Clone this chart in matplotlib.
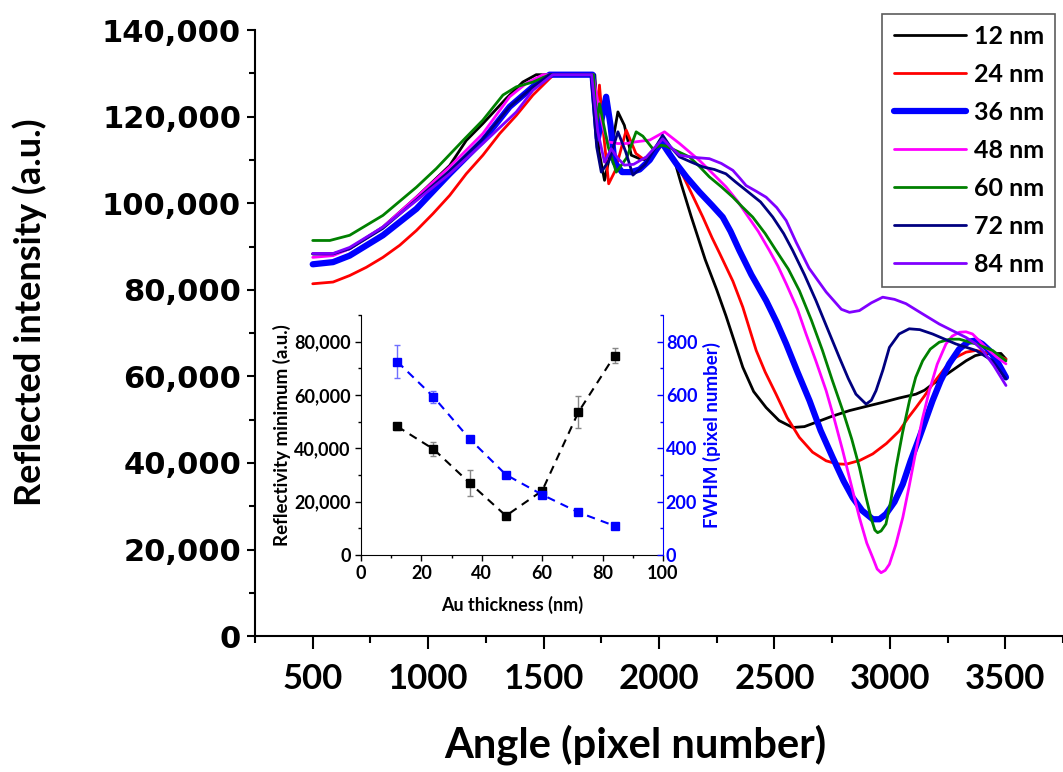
import numpy as np
import matplotlib
matplotlib.use("Agg")
import matplotlib.pyplot as plt
from matplotlib.ticker import MultipleLocator, FuncFormatter

# main spectra (pixel number, intensity)
x12 = [500, 588, 660, 804, 949, 1093, 1165, 1237, 1338, 1410, 1468, 1722, 1740, 1764, 1795, 1822, 1850, 1880, 1916,
       1959, 2016, 2040, 2067, 2096, 2139, 2200, 2250, 2290, 2330, 2363, 2410, 2464, 2520, 2579, 2630, 2680, 2750,
       2825, 2900, 2969, 3040, 3113, 3150, 3185, 3260, 3330, 3370, 3402, 3481, 3503]
y12 = [88300, 88300, 89500, 94500, 101400, 108700, 114500, 118400, 124200, 128000, 129700, 129700, 112000, 105300, 113000,
       121100, 118000, 111100, 110300, 109900, 114900, 112500, 109900, 104500, 97000, 87000, 80000, 74000, 67500, 62100,
       56500, 52800, 49800, 48200, 48400, 49400, 50800, 52100, 53100, 54000, 55000, 55900, 56800, 58200, 61000, 63600,
       64800, 65200, 65300, 64000]

x24 = [500, 588, 660, 732, 804, 877, 949, 1021, 1093, 1165, 1237, 1310, 1382, 1454, 1526, 1545, 1716, 1728, 1742, 1760,
       1782, 1810, 1858, 1900, 1930, 1970, 2016, 2060, 2103, 2139, 2190, 2230, 2262, 2320, 2363, 2421, 2460, 2507, 2555,
       2608, 2665, 2724, 2770, 2810, 2870, 2926, 2985, 3041, 3080, 3113, 3150, 3185, 3240, 3286, 3330, 3373, 3445, 3503]
y24 = [81400, 81800, 83300, 85200, 87500, 90300, 93700, 97600, 101800, 106800, 111100, 116100, 120300, 125000, 128800,
       129700, 129700, 120000, 127300, 116000, 104500, 107500, 116900, 111500, 110300, 110800, 113600, 110000, 106500,
       102500, 96800, 92000, 88500, 82000, 76000, 66000, 61000, 55900, 50500, 45900, 42500, 40500, 39800, 39700, 40600,
       42100, 44500, 47400, 50500, 52800, 55500, 58200, 62000, 64400, 65600, 66000, 65200, 64000]

x36 = [500, 588, 660, 804, 949, 1093, 1237, 1353, 1454, 1526, 1712, 1735, 1771, 1790, 1807, 1840, 1880, 1916, 1960,
       2010, 2040, 2074, 2120, 2175, 2230, 2276, 2310, 2348, 2400, 2464, 2510, 2551, 2600, 2652, 2700, 2752, 2800, 2839,
       2880, 2926, 2955, 2983, 3020, 3056, 3090, 3128, 3185, 3220, 3257, 3300, 3340, 3373, 3400, 3431, 3470, 3503]
y36 = [85900, 86400, 87900, 92600, 98700, 106800, 114500, 122300, 126900, 129700, 129700, 115000, 124600, 118000,
       109500, 107200, 107200, 107800, 110000, 114200, 111800, 109200, 106000, 102600, 99500, 96800, 93500, 89100, 83500,
       77500, 72500, 67500, 61000, 54400, 47500, 41300, 35800, 32000, 29000, 27000, 27000, 28200, 31000, 35100, 40500,
       45900, 54400, 59000, 62900, 66300, 68000, 68300, 67500, 66000, 63000, 59800]

x48 = [500, 588, 660, 804, 949, 1093, 1237, 1353, 1425, 1497, 1714, 1735, 1760, 1778, 1820, 1858, 1901, 1960, 2024,
       2089, 2175, 2230, 2290, 2340, 2377, 2430, 2478, 2515, 2551, 2600, 2637, 2680, 2724, 2760, 2796, 2830, 2868, 2900,
       2926, 2945, 2962, 2980, 2998, 3025, 3056, 3085, 3113, 3140, 3171, 3205, 3243, 3270, 3301, 3330, 3358, 3416, 3460,
       3503]
y48 = [87500, 87900, 89500, 94500, 101400, 108400, 116100, 124600, 127700, 129700, 129700, 123400, 117000, 114200,
       113800, 113800, 114200, 114600, 116500, 113800, 109900, 107000, 103800, 100500, 97600, 93500, 89100, 85500, 81400,
       75500, 69800, 63500, 56700, 50000, 42800, 35500, 27400, 21500, 18100, 15500, 14650, 15200, 16600, 21000, 27400,
       35000, 42800, 50000, 56700, 62800, 67500, 69300, 70200, 70300, 69800, 66700, 64600, 62900]

x60 = [500, 574, 660, 804, 949, 1035, 1151, 1237, 1324, 1382, 1454, 1526, 1716, 1730, 1742, 1780, 1815, 1860, 1901,
       1930, 1973, 2009, 2031, 2080, 2132, 2175, 2218, 2270, 2320, 2360, 2406, 2460, 2507, 2560, 2608, 2660, 2708, 2750,
       2796, 2835, 2868, 2895, 2918, 2935, 2947, 2962, 2983, 3005, 3027, 3055, 3085, 3112, 3142, 3175, 3214, 3260, 3301,
       3373, 3445, 3503]
y60 = [91400, 91400, 92600, 97200, 103700, 108000, 114500, 119200, 125000, 126900, 128000, 129700, 129700, 118000,
       123000, 113000, 107200, 110500, 116500, 115500, 112600, 113400, 113200, 112000, 110700, 108500, 106100, 103800,
       101400, 99200, 96800, 93000, 89100, 84800, 79800, 73000, 66000, 59200, 52100, 45500, 39000, 32500, 27400, 24500,
       23900, 24300, 25900, 31500, 39000, 47000, 54400, 59800, 63600, 66300, 67900, 68600, 68600, 67500, 66000, 63600]

x72 = [500, 588, 660, 804, 949, 1093, 1237, 1353, 1454, 1526, 1706, 1730, 1750, 1785, 1822, 1855, 1887, 1940, 2016,
       2050, 2089, 2140, 2190, 2240, 2290, 2330, 2377, 2440, 2493, 2540, 2579, 2630, 2680, 2730, 2781, 2820, 2853, 2897,
       2920, 2940, 2970, 2998, 3040, 3084, 3130, 3185, 3286, 3373, 3445, 3503]
y72 = [88300, 88300, 89500, 94200, 100800, 107500, 114900, 122300, 126900, 129700, 129700, 113000, 107200, 110000,
       116500, 112000, 106500, 109000, 115700, 113000, 110700, 109500, 108400, 107800, 106800, 105000, 103000, 100300,
       96800, 93000, 89100, 83500, 77500, 71000, 64400, 59500, 55900, 53600, 54500, 56700, 61500, 66700, 69800, 71000,
       70800, 69800, 67500, 66000, 63600, 59400]

x84 = [500, 588, 660, 804, 949, 1093, 1237, 1382, 1454, 1540, 1708, 1735, 1764, 1793, 1820, 1850, 1890, 1945, 2016,
       2060, 2089, 2150, 2218, 2270, 2320, 2350, 2377, 2420, 2464, 2510, 2551, 2594, 2650, 2724, 2790, 2825, 2868, 2920,
       2969, 3020, 3070, 3140, 3214, 3270, 3330, 3370, 3402, 3450, 3503]
y84 = [88400, 88400, 89800, 94500, 100600, 106800, 113800, 121100, 126100, 129700, 129700, 116500, 109500, 112600,
       110500, 108800, 109000, 110700, 114900, 112500, 111100, 110600, 110300, 109200, 107600, 105800, 104100, 102800,
       101400, 99000, 96000, 91000, 85000, 79500, 75500, 74800, 75200, 77000, 78300, 77800, 76800, 74500, 72100, 70600,
       69000, 67600, 66000, 62500, 57900]

thick_labels = ["12 nm", "24 nm", "36 nm", "48 nm", "60 nm", "72 nm", "84 nm"]

# inset: minimum reflectivity and FWHM against Au thickness
thickness = [12, 24, 36, 48, 60, 72, 84]
refl_min = [48200, 39700, 27000, 14700, 24100, 53600, 74800]
refl_err = [1200, 2500, 4900, 800, 1200, 6000, 2700]
fwhm = [725, 593, 435, 301, 226, 160, 109]
fwhm_err = [61, 22, 12, 8, 8, 6, 6]

colors = ["black", "#ff0000", "#0000ff", "#ff00ff", "#008000", "#000080", "#8000ff"]
widths = [2.0, 2.0, 4.5, 2.0, 2.0, 2.0, 2.0]

fig = plt.figure(figsize=(10.63, 7.72), dpi=100)
ax = fig.add_axes([0.2399, 0.176, 0.7601, 0.785])

xs = [x12, x24, x36, x48, x60, x72, x84]
ys = [y12, y24, y36, y48, y60, y72, y84]
for xv, yv, c, w, lab in zip(xs, ys, colors, widths, thick_labels):
    ax.plot(xv, yv, color=c, lw=w, label=lab, solid_capstyle="round", solid_joinstyle="round")

ax.set_xlim(250, 3750)
ax.set_ylim(0, 140000)
ax.spines["top"].set_visible(False)
ax.spines["right"].set_visible(False)
for s in ["left", "bottom"]:
    ax.spines[s].set_linewidth(1.5)
ax.xaxis.set_major_locator(MultipleLocator(500))
ax.xaxis.set_minor_locator(MultipleLocator(250))
ax.yaxis.set_major_locator(MultipleLocator(20000))
ax.yaxis.set_minor_locator(MultipleLocator(10000))
ax.set_xticks([500, 1000, 1500, 2000, 2500, 3000, 3500])
ax.yaxis.set_major_formatter(FuncFormatter(lambda v, p: "{:,.0f}".format(v)))
ax.tick_params(axis="x", which="major", direction="out", length=9, width=1.5, pad=10)
ax.tick_params(axis="x", which="minor", direction="out", length=5, width=1.5)
ax.tick_params(axis="y", which="major", direction="out", length=6, width=1.5, pad=4)
ax.tick_params(axis="y", which="minor", direction="out", length=4, width=1.5)
for t in ax.get_xticklabels():
    t.set_fontfamily("Lato")
    t.set_fontweight("bold")
    t.set_fontsize(25)
for t in ax.get_yticklabels():
    t.set_fontfamily("DejaVu Sans")
    t.set_fontweight("bold")
    t.set_fontsize(22)

fig.text(0.598, 0.035, "Angle (pixel number)", ha="center", va="center",
         family="Lato", weight="bold", fontsize=30)
fig.text(0.028, 0.595, "Reflected intensity (a.u.)", ha="center", va="center", rotation=90,
         family="Lato", weight="bold", fontsize=26)

leg = ax.legend(loc="upper right", bbox_to_anchor=(0.9925, 0.982), bbox_transform=fig.transFigure,
                prop={"family": "Lato", "weight": "bold", "size": 18}, frameon=True, fancybox=False,
                handlelength=2.9, labelspacing=0.6, borderpad=0.45, handletextpad=0.3, borderaxespad=0)
leg.get_frame().set_edgecolor("#333333")
leg.get_frame().set_linewidth(1.2)
for h in leg.get_lines():
    h.set_solid_capstyle("round")

# inset
ins = fig.add_axes([0.3396, 0.2811, 0.2841, 0.3109])
ins.errorbar(thickness, refl_min, yerr=refl_err, fmt="s", color="black", ms=6, ecolor="#888888",
             elinewidth=1, capsize=2.5, zorder=3)
ins.plot(thickness, refl_min, ls=(0, (4, 3)), color="black", lw=1.5, zorder=2)
ins.set_xlim(0, 100)
ins.set_ylim(0, 90000)
ins.xaxis.set_major_locator(MultipleLocator(20))
ins.xaxis.set_minor_locator(MultipleLocator(10))
ins.yaxis.set_major_locator(MultipleLocator(20000))
ins.yaxis.set_minor_locator(MultipleLocator(10000))
ins.yaxis.set_major_formatter(FuncFormatter(lambda v, p: "{:,.0f}".format(v)))
ins.spines["top"].set_visible(False)
ins.spines["right"].set_visible(False)
ins.tick_params(which="major", direction="out", length=4, width=1)
ins.tick_params(which="minor", direction="out", length=2.5, width=1)
for t in ins.get_xticklabels() + ins.get_yticklabels():
    t.set_fontfamily("Lato")
    t.set_fontweight("bold")
    t.set_fontsize(13)
ins.set_xlabel("Au thickness (nm)", family="Lato", weight="bold", fontsize=13, labelpad=10)
ins.set_ylabel("Reflectivity minimum (a.u.)", family="Lato", weight="bold", fontsize=13.5, labelpad=2)

ins2 = ins.twinx()
ins2.errorbar(thickness, fwhm, yerr=fwhm_err, fmt="s", color="#0000ff", ms=6, ecolor="#6f6fff",
              elinewidth=1, capsize=2.5, zorder=3)
ins2.plot(thickness, fwhm, ls=(0, (4, 3)), color="#0000ff", lw=1.5, zorder=2)
ins2.set_ylim(0, 900)
ins2.yaxis.set_major_locator(MultipleLocator(200))
ins2.yaxis.set_minor_locator(MultipleLocator(100))
for s in ["top", "left", "bottom"]:
    ins2.spines[s].set_visible(False)
ins2.spines["right"].set_color("#0000ff")
ins2.tick_params(axis="y", which="major", direction="in", length=4, width=1, colors="#0000ff", pad=2)
ins2.tick_params(axis="y", which="minor", direction="in", length=2.5, width=1, colors="#0000ff")
for t in ins2.get_yticklabels():
    t.set_fontfamily("Lato")
    t.set_fontweight("bold")
    t.set_fontsize(13)
ins2.set_ylabel("FWHM (pixel number)", family="Lato", weight="bold", fontsize=13.5, color="#0000ff", labelpad=4)

fig.savefig("out.png", dpi=100)
